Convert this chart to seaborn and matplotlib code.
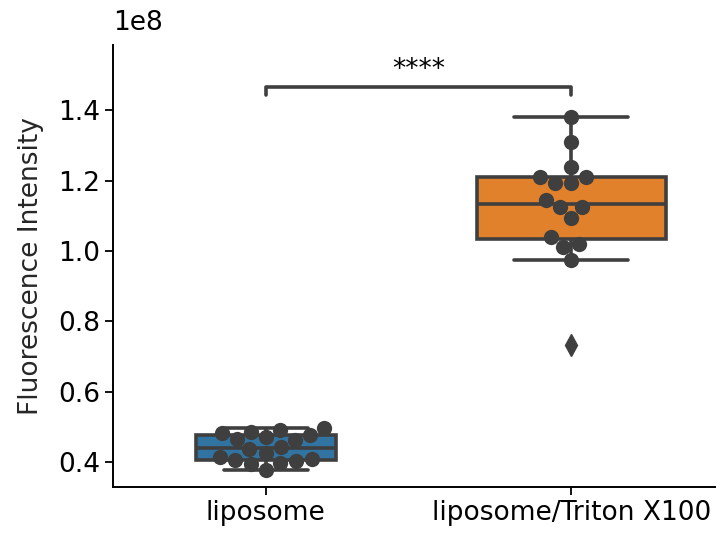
import numpy as np
import pandas as pd
import matplotlib
matplotlib.use("Agg")
import matplotlib.pyplot as plt
from matplotlib.transforms import ScaledTranslation
import seaborn as sns

categories = ["liposome", "liposome/Triton X100"]
liposome_vals = [0.378, 0.395, 0.398, 0.403, 0.405, 0.410, 0.413, 0.426, 0.438,
                 0.443, 0.462, 0.466, 0.470, 0.478, 0.482, 0.485, 0.491, 0.497]
triton_vals = [0.732, 0.974, 1.011, 1.019, 1.039, 1.093, 1.124, 1.124, 1.144,
               1.193, 1.193, 1.210, 1.210, 1.240, 1.309, 1.380]
scale = 1e8
box_widths = [0.46, 0.62]
colors = sns.color_palette()[:2]

df = pd.DataFrame({
    "group": [categories[0]] * len(liposome_vals) + [categories[1]] * len(triton_vals),
    "value": np.array(liposome_vals + triton_vals) * scale,
})

sns.set_theme(style="ticks")
plt.rcParams["font.family"] = ["DejaVu Sans"]

fig = plt.figure(figsize=(7.16, 5.33), dpi=100)
ax = fig.add_axes([0.158, 0.0863, 0.853, 0.829])

lc = "#3f3f3f"
for i, (cat, w, c) in enumerate(zip(categories, box_widths, colors)):
    sub = df[df["group"] == cat]
    n_before = len(ax.lines)
    sns.boxplot(data=sub, x="group", y="value", order=categories, width=w,
                color=c, saturation=0.75, linewidth=2.6, linecolor=lc,
                flierprops=dict(marker="d", markersize=11, markerfacecolor=lc,
                                markeredgecolor=lc), ax=ax)
    # widen whisker caps
    for ln in ax.lines[n_before:]:
        xd, yd = np.asarray(ln.get_xdata(), float), np.asarray(ln.get_ydata(), float)
        if len(xd) == 2 and yd[0] == yd[1]:
            span = abs(xd[1] - xd[0])
            if span < 0.8 * w:
                half = 0.3 * w
                ln.set_xdata([i - half, i + half])

# swarm of points within whiskers
def inliers(s):
    q1, q3 = np.percentile(s, [25, 75])
    iqr = q3 - q1
    return s[(s >= q1 - 1.5 * iqr) & (s <= q3 + 1.5 * iqr)]

sw = pd.concat([df[df["group"] == c].loc[lambda d: d["value"].isin(inliers(d["value"]))]
                for c in categories])
sns.swarmplot(data=sw, x="group", y="value", order=categories, color=lc,
              size=11, ax=ax)

fs = 19
ax.set_ylim(0.329 * scale, 1.585 * scale)
ax.set_xlim(-0.5, 1.5)
ax.set_xlabel("")
ax.set_ylabel("Fluorescence Intensity", fontsize=fs, labelpad=10)
ax.tick_params(axis="both", labelsize=fs, width=1.3, length=6, colors="black")
off = ax.yaxis.get_offset_text()
off.set_fontsize(fs)
off.set_transform(off.get_transform() + ScaledTranslation(0, 8 / 72, fig.dpi_scale_trans))
for s in ["left", "bottom"]:
    ax.spines[s].set_linewidth(1.4)
    ax.spines[s].set_color("black")
sns.despine(ax=ax)

# significance bracket
y0, y1 = 1.443 * scale, 1.465 * scale
ax.plot([0, 0, 1, 1], [y0, y1, y1, y0], color=lc, lw=2.6, clip_on=False)
ax.text(0.5, 1.478 * scale, "****", ha="center", va="bottom", fontsize=fs, color="black")

fig.savefig("out.png", dpi=100)
